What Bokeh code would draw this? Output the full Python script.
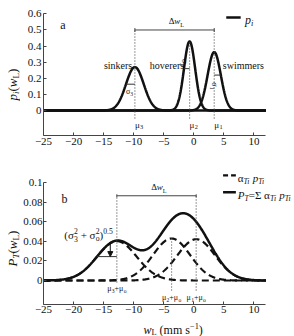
import numpy as np
from math import pi, cos, sin
from bokeh.plotting import figure
from bokeh.layouts import column, row
from bokeh.models import Label, FixedTicker, Arrow, NormalHead
from bokeh.embed import file_html
from bokeh.resources import INLINE

# ---------------- data ----------------
groups = ["swimmers", "hoverers", "sinkers"]
mu = [3.4, -0.7, -9.8]          # mu_1, mu_2, mu_3 (mm/s)
sigma = [1.1, 0.93, 1.48]       # sigma_1..3
alpha = [1 / 3, 1 / 3, 1 / 3]   # alpha_Ti
mu_o = -3.0
sigma_o = 2.95

x_ticks = [-25, -20, -15, -10, -5, 0, 5, 10]
x_tick_labels = ["−25", "−20", "−15", "−10", "−5", "0", "5", "10"]
ya_ticks = [0, 0.1, 0.2, 0.3, 0.4, 0.5, 0.6]
ya_tick_labels = ["0", "0.1", "0.2", "0.3", "0.4", "0.5", "0.6"]
yb_ticks = [0, 0.02, 0.04, 0.06, 0.08, 0.1]
yb_tick_labels = ["0", "0.02", "0.04", "0.06", "0.08", "0.1"]

FONT = "Liberation Serif"
INK = "#111111"


def gauss(x, m, s):
    return np.exp(-0.5 * ((x - m) / s) ** 2) / (s * np.sqrt(2 * np.pi))


W = dict(a=444, b=500, c=444, d=500, e=444, f=333, g=500, h=500, i=278, j=278, k=500,
         l=278, m=778, n=500, o=500, p=500, q=500, r=333, s=389, t=278, u=500, v=500,
         w=722, x=500, y=500, z=444, L=611, P=556, T=611)
W.update({".": 250, " ": 250, "(": 333, ")": 333, "+": 564, "=": 564, "−": 564,
          "σ": 549, "μ": 576, "α": 530, "Σ": 600, "Δ": 612})
WI = dict(W)
WI.update(w=667, P=611, T=556, L=556)


def tw(text, size, ital):
    t = WI if ital else W
    return sum(t.get(c, 500) for c in text) * size / 1000.0


def rich(p, x, y, parts, size, angle=0.0, align="left", sub=0.3, sup=0.42):
    ca, sa = cos(angle), sin(angle)
    total = 0.0
    for part in parts:
        text, kind, ital = part[:3]
        adv = part[3] if len(part) > 3 else True
        s = size if kind == "n" else size * 0.7
        if adv:
            total += tw(text, s, ital)
    pos = -total / 2 if align == "center" else 0.0
    for part in parts:
        text, kind, ital = part[:3]
        adv = part[3] if len(part) > 3 else True
        s = size if kind == "n" else size * 0.7
        shift = {"n": 0.0, "sub": sub * size, "sup": -sup * size}[kind]
        if text.strip():
            xo = pos * ca + shift * sa
            yo = pos * sa - shift * ca
            p.add_layout(Label(x=x, y=y, x_offset=xo, y_offset=yo, text=text,
                               text_font=FONT, text_font_size=f"{s:.1f}px",
                               text_font_style="italic" if ital else "normal",
                               text_color=INK, angle=angle, text_align="left",
                               text_baseline="alphabetic"))
        if adv:
            pos += tw(text, s, ital)


def style(p, yt, ylabels, ybounds, ystandoff, xstandoff):
    p.xgrid.visible = False
    p.ygrid.visible = False
    p.outline_line_color = None
    p.background_fill_color = "white"
    p.border_fill_color = "white"
    for ax in (p.xaxis[0], p.yaxis[0]):
        ax.major_tick_in = 3
        ax.major_tick_out = 0
        ax.minor_tick_line_color = None
        ax.axis_line_color = "#444444"
        ax.major_tick_line_color = "#444444"
        ax.major_label_text_font = FONT
        ax.major_label_text_font_size = "11px"
        ax.major_label_text_color = INK
    p.yaxis[0].major_label_standoff = ystandoff
    p.xaxis[0].major_label_standoff = xstandoff
    p.xaxis[0].ticker = FixedTicker(ticks=x_ticks)
    p.xaxis[0].major_label_overrides = dict(zip(x_ticks, x_tick_labels))
    p.xaxis[0].bounds = (-25, 12)
    p.yaxis[0].ticker = FixedTicker(ticks=yt)
    p.yaxis[0].major_label_overrides = dict(zip(yt, ylabels))
    p.yaxis[0].bounds = ybounds


def text_panel(w, h):
    f = figure(width=w, height=h, x_range=(0, w), y_range=(0, h), x_axis_type=None,
               y_axis_type=None, output_backend="svg", toolbar_location=None,
               min_border=0, min_border_left=0, min_border_right=0, min_border_top=0,
               min_border_bottom=0)
    f.outline_line_color = None
    f.background_fill_color = "white"
    f.border_fill_color = "white"
    return f


x = np.linspace(-25, 12, 741)

# ---------------- panel a ----------------
p1 = figure(width=274, height=160, x_range=(-25, 16.42), y_range=(-0.155, 0.683),
            output_backend="svg", toolbar_location=None,
            min_border_left=21, min_border_right=2, min_border_top=0, min_border_bottom=25)
style(p1, ya_ticks, ya_tick_labels, (-0.155, 0.6), 2, 2)

for m, s in zip(mu, sigma):
    p1.line(x, gauss(x, m, s), line_color=INK, line_width=2.5)

brA = 0.5
peaks = [gauss(m, m, s) for m, s in zip(mu, sigma)]
p1.segment(x0=[mu[2], mu[1], mu[0]], y0=[-0.05] * 3, x1=[mu[2], mu[1], mu[0]],
           y1=[brA, peaks[1], brA], line_color="#555555", line_width=1.2, line_dash="1 2")
p1.segment(x0=[mu[2]], y0=[brA], x1=[mu[0]], y1=[brA], line_color="#444444", line_width=1)
p1.segment(x0=[mu[2], mu[0]], y0=[brA - 0.012] * 2, x1=[mu[2], mu[0]], y1=[brA + 0.012] * 2,
           line_color="#444444", line_width=1)
bx0 = [mu[2] - sigma[2], mu[1] - sigma[1], mu[0]]
bx1 = [mu[2], mu[1], mu[0] + sigma[0]]
by = [pk * np.exp(-0.5) for pk in (peaks[2], peaks[1], peaks[0])]
p1.segment(x0=bx0, y0=by, x1=bx1, y1=by, line_color="#333333", line_width=1)

rich(p1, -22.2, 0.534, [("a", "n", False)], 12)
rich(p1, -2.9, 0.553, [("Δ", "n", False), ("w", "n", True), ("L", "sub", False)], 9, align="center")
for name, cx in zip(["sinkers", "hoverers", "swimmers"], [-12.6, -4.45, 8.25]):
    p1.add_layout(Label(x=cx, y=0.28, text=name, text_font=FONT, text_font_size="10px",
                        text_color=INK, text_align="center", text_baseline="alphabetic"))
for m, k in zip([mu[2], mu[1], mu[0]], ["3", "2", "1"]):
    rich(p1, m, -0.087, [("μ", "n", False), (k, "sub", False)], 9)
rich(p1, mu[2] - sigma[2], 0.118, [("σ", "n", False), ("3", "sub", False)], 8)
rich(p1, mu[1] - 0.85, 0.32, [("σ", "n", False), ("2", "sub", False)], 8, angle=-pi / 2)
rich(p1, mu[0] + 0.1, 0.175, [("σ", "n", False), ("1", "sub", False)], 8, angle=-pi / 2)

p1.line([5.4, 7.8], [0.578, 0.578], line_color=INK, line_width=2.5)
rich(p1, 8.5, 0.562, [("p", "n", True), ("i", "sub", True)], 12)

# ---------------- panel b ----------------
p2 = figure(width=274, height=158, x_range=(-25, 16.42), y_range=(-0.02456, 0.1228),
            output_backend="svg", toolbar_location=None,
            min_border_left=21, min_border_right=2, min_border_top=0, min_border_bottom=14)
style(p2, yb_ticks, yb_tick_labels, (-0.02456, 0.1), 1, 1)

mus_t = [m + mu_o for m in mu]
sig_t = [np.sqrt(s ** 2 + sigma_o ** 2) for s in sigma]
total = np.zeros_like(x)
for a_, m, s in zip(alpha, mus_t, sig_t):
    comp = a_ * gauss(x, m, s)
    total += comp
    p2.line(x, comp, line_color=INK, line_width=2.2, line_dash="7 4")
p2.line(x, total, line_color=INK, line_width=2.5)


def total_at(v):
    return sum(a_ * gauss(v, m, s) for a_, m, s in zip(alpha, mus_t, sig_t))


brB = 0.0867
cpk = [a_ * gauss(m, m, s) for a_, m, s in zip(alpha, mus_t, sig_t)]
p2.segment(x0=[mus_t[2], mus_t[1], mus_t[0]], y0=[-0.002, -0.0102, -0.0102],
           x1=[mus_t[2], mus_t[1], mus_t[0]], y1=[brB, cpk[1], brB],
           line_color="#555555", line_width=1.2, line_dash="1 2")
p2.segment(x0=[mus_t[2]], y0=[brB], x1=[mus_t[0]], y1=[brB], line_color="#444444", line_width=1)
p2.segment(x0=[mus_t[2], mus_t[0]], y0=[brB - 0.0015] * 2, x1=[mus_t[2], mus_t[0]],
           y1=[brB + 0.0015] * 2, line_color="#444444", line_width=1)
hb = total_at(mus_t[2] - sig_t[2])
p2.segment(x0=[mus_t[2] - sig_t[2]], y0=[hb], x1=[mus_t[2]], y1=[hb], line_color="#333333", line_width=1)
axx = mus_t[2] - 0.33 * sig_t[2]
p2.add_layout(Arrow(end=NormalHead(size=5, fill_color=INK, line_color=INK),
                    x_start=axx, y_start=total_at(axx), x_end=axx, y_end=hb,
                    line_color=INK, line_width=1))

rich(p2, -22.0, 0.0829, [("b", "n", False)], 12)
rich(p2, -5.8, 0.0952, [("Δ", "n", False), ("w", "n", True), ("L", "sub", False)], 9, align="center")
rich(p2, -21.53, 0.0461, [("(σ", "n", False), ("2", "sup", False, False), ("3", "sub", False),
                          (" ", "n", False), ("+", "n", False), (" ", "n", False), ("σ", "n", False),
                          ("2", "sup", False, False), ("o", "sub", False),
                          (")", "n", False), ("0.5", "sup", False)], 11)
for m, k, yy in zip([mus_t[2], mus_t[1], mus_t[0]], ["3", "2", "1"], [-0.0082, -0.0174, -0.0174]):
    rich(p2, m, yy, [("μ", "n", False), (k, "sub", False), ("+μ", "n", False), ("o", "sub", False)],
         8, align="center")

p2.line([4.87, 7.0], [0.1075, 0.1075], line_color=INK, line_width=2.2, line_dash="5 3")
rich(p2, 7.3, 0.1044, [("α", "n", False), ("Ti", "sub", True), (" ", "n", False), ("p", "n", True),
                       ("Ti", "sub", True)], 11)
p2.line([4.87, 7.0], [0.0904, 0.0904], line_color=INK, line_width=2.5)
rich(p2, 7.3, 0.087, [("P", "n", True), ("T", "sub", True), ("=Σ α", "n", False), ("Ti", "sub", True),
                      (" ", "n", False), ("p", "n", True), ("Ti", "sub", True)], 11)

# ---------------- axis-title panels ----------------
labA = text_panel(20, 160)
rich(labA, 12, 60, [("p", "n", True), ("i", "sub", True), ("(", "n", False), ("w", "n", True),
                    ("L", "sub", False), (")", "n", False)], 13, angle=pi / 2, sub=0.25)
labB = text_panel(20, 176)
rich(labB, 12, 70, [("P", "n", True), ("T", "sub", True), ("(", "n", False), ("w", "n", True),
                    ("L", "sub", False), (")", "n", False)], 13, angle=pi / 2, sub=0.25)
xlab = text_panel(274, 18)
rich(xlab, 110, 6.5, [("w", "n", True), ("L", "sub", False), (" ", "n", False), ("(mm s", "n", False),
                      ("−1", "sup", False), (")", "n", False)], 12, sub=0.2, sup=0.3)

layout = row(column(labA, labB, spacing=0), column(p1, p2, xlab, spacing=0), spacing=0)
open("out.html", "w").write(file_html(layout, INLINE))
